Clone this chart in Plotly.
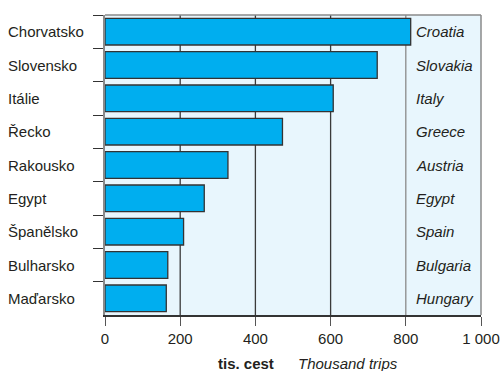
import plotly.graph_objects as go

categories_cz = ["Chorvatsko", "Slovensko", "Itálie", "Řecko", "Rakousko", "Egypt",
                 "Španělsko", "Bulharsko", "Maďarsko"]
categories_en = ["Croatia", "Slovakia", "Italy", "Greece", "Austria", "Egypt",
                 "Spain", "Bulgaria", "Hungary"]
trips = [813, 724, 607, 472, 327, 264, 209, 167, 163]
x_ticks = [0, 200, 400, 600, 800, 1000]
x_tick_labels = ["0", "200", "400", "600", "800", "1 000"]
grid_values = [200, 400, 600, 800]
grid_colors = ["#3a3a3a", "#3a3a3a", "#3a3a3a", "#8a8a8a"]

FONT = "Liberation Sans, Arial, Helvetica, sans-serif"
TXT = "#231f20"

fig = go.Figure(go.Bar(
    x=trips, y=categories_cz, orientation="h", width=0.8,
    marker=dict(color="#00aeef", line=dict(color="#333333", width=1.3)),
    hoverinfo="skip",
))

shapes = []
for v, c in zip(grid_values, grid_colors):
    shapes.append(dict(type="line", xref="x", yref="paper", x0=v, x1=v, y0=0, y1=1,
                       line=dict(color=c, width=1.3), layer="below"))
# top and right frame
shapes.append(dict(type="line", xref="paper", yref="paper", x0=0, x1=1, y0=1, y1=1,
                   line=dict(color="#8a8a8a", width=1.5), layer="below"))
shapes.append(dict(type="line", xref="paper", yref="paper", x0=1, x1=1, y0=0, y1=1,
                   line=dict(color="#8a8a8a", width=1.5), layer="below"))

annotations = []
for cz, en in zip(categories_cz, categories_en):
    annotations.append(dict(x=0, xref="paper", y=cz, yref="y", text=cz, showarrow=False,
                            xanchor="left", xshift=-99, font=dict(size=15, color=TXT, family=FONT)))
    annotations.append(dict(x=822, xref="x", y=cz, yref="y", text="<i>" + en + "</i>", showarrow=False,
                            xanchor="left", font=dict(size=15, color=TXT, family=FONT)))
annotations.append(dict(x=0.295, xref="paper", y=-0.163, yref="paper", text="<b>tis. cest</b>",
                        showarrow=False, xanchor="left", yanchor="middle",
                        font=dict(size=15, color=TXT, family=FONT)))
annotations.append(dict(x=0.508, xref="paper", y=-0.163, yref="paper", text="<i>Thousand trips</i>",
                        showarrow=False, xanchor="left", yanchor="middle",
                        font=dict(size=15, color=TXT, family=FONT)))

fig.update_layout(
    width=502, height=371,
    margin=dict(l=105, r=21, t=15, b=56),
    paper_bgcolor="white", plot_bgcolor="#e8f6fd",
    showlegend=False, bargap=0.2,
    font=dict(family=FONT, size=15, color=TXT),
    shapes=shapes, annotations=annotations,
    xaxis=dict(range=[0, 1000], tickvals=x_ticks, ticktext=x_tick_labels, automargin=False,
               showgrid=False, zeroline=False, showline=True, linecolor="#333333", linewidth=1.5,
               ticks="outside", ticklen=9, tickcolor="#555555", tickwidth=1.3,
               tickfont=dict(size=15, color=TXT, family=FONT)),
    yaxis=dict(categoryorder="array", categoryarray=categories_cz, autorange="reversed",
               automargin=False,
               showticklabels=False, showgrid=False, zeroline=False,
               showline=True, linecolor="#8a8a8a", linewidth=1.5,
               ticks="outside", tickson="boundaries", ticklen=10, tickcolor="#333333", tickwidth=1.3),
)

fig.write_html("out.html", config={"displayModeBar": False},
               post_script="document.body.style.margin='0';document.body.style.overflow='hidden';")
